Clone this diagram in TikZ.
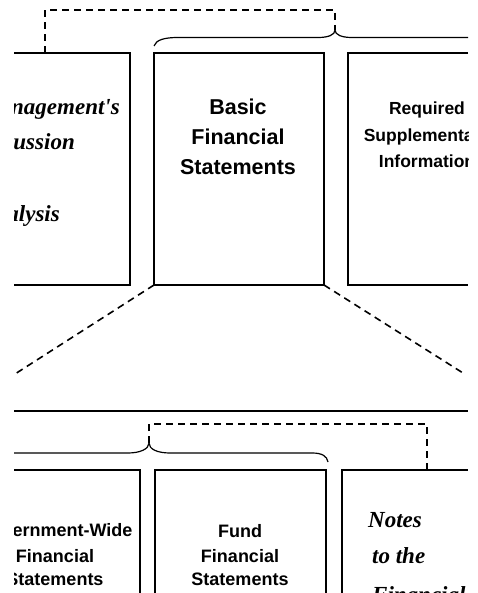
\documentclass[tikz,border=0pt]{standalone}
\usepackage{fontspec}
\setmainfont{Liberation Serif}
\newfontfamily\hsf{Liberation Sans}
\newfontfamily\scrf{Liberation Serif}
\begin{document}
\begin{tikzpicture}[x=1pt,y=-1pt,
  solidline/.style={line width=1.4pt},
  dashline/.style={line width=1.6pt, dash pattern=on 7pt off 5pt},
  bracestyle/.style={line width=1.2pt},
  bigsans/.style={font=\hsf\bfseries\fontsize{21.5}{24}\selectfont, inner sep=0pt, anchor=base},
  medsans/.style={font=\hsf\bfseries\fontsize{17.5}{20}\selectfont, inner sep=0pt, anchor=base},
  smallsans/.style={font=\hsf\bfseries\fontsize{18}{20}\selectfont, inner sep=0pt, anchor=base},
  scripttext/.style={font=\scrf\bfseries\itshape\fontsize{23}{26}\selectfont, inner sep=0pt}]
\useasboundingbox (0,0) rectangle (477,593);

% top boxes
\coordinate (a1) at (14,53);  \coordinate (a2) at (130,53);
\coordinate (a3) at (130,285); \coordinate (a4) at (14,285);
\coordinate (b1) at (154,53); \coordinate (b2) at (324,53);
\coordinate (b3) at (324,285); \coordinate (b4) at (154,285);
\coordinate (c1) at (468,53); \coordinate (c2) at (348,53);
\coordinate (c3) at (348,285); \coordinate (c4) at (468,285);
\draw[solidline] (a1) -- (a2) -- (a3) -- (a4);
\draw[solidline] (b1) rectangle (b3);
\draw[solidline] (c1) -- (c2) -- (c3) -- (c4);

% top dashed bracket and brace
\coordinate (tb1) at (45,53); \coordinate (tb2) at (45,10);
\coordinate (tb3) at (335,10); \coordinate (tb4) at (335,30);
\draw[dashline] (tb1) -- (tb2) -- (tb3) -- (tb4);
\draw[bracestyle] (154,46) .. controls (156,40) and (164,37.5) .. (178,37.5) -- (318,37.5)
  .. controls (328,37.5) and (335,35) .. (tb4)
  .. controls (335,35) and (342,37.5) .. (352,37.5) -- (468,37.5);

% diagonals
\coordinate (dl) at (15,374); \coordinate (dr) at (463,373);
\draw[dashline] (b4) -- (dl);
\draw[dashline] (b3) -- (dr);

% separator line
\coordinate (s1) at (14,411); \coordinate (s2) at (468,411);
\draw[solidline] (s1) -- (s2);

% bottom dashed bracket and brace
\coordinate (bb1) at (149,443); \coordinate (bb2) at (149,424);
\coordinate (bb3) at (427,424); \coordinate (bb4) at (427,470);
\draw[dashline] (bb1) -- (bb2) -- (bb3) -- (bb4);
\draw[bracestyle] (14,453) -- (128,453) .. controls (140,453) and (149,449) .. (bb1)
  .. controls (149,449) and (157,453) .. (170,453) -- (312,453)
  .. controls (322,453) and (327,456) .. (328,462);

% bottom boxes
\coordinate (d1) at (14,470); \coordinate (d2) at (140,470); \coordinate (d3) at (140,593);
\coordinate (e1) at (155,593); \coordinate (e2) at (155,470); \coordinate (e3) at (326,470); \coordinate (e4) at (326,593);
\coordinate (f1) at (342,593); \coordinate (f2) at (342,470); \coordinate (f3) at (468,470);
\draw[solidline] (d1) -- (d2) -- (d3);
\draw[solidline] (e1) -- (e2) -- (e3) -- (e4);
\draw[solidline] (f1) -- (f2) -- (f3);

% texts
\begin{scope}
\clip (14,0) rectangle (468,593);
\node[scripttext, anchor=base east] (m1) at (120,115) {Management's};
\node[scripttext, anchor=base east] (m2) at (75,150) {Discussion};
\node[scripttext, anchor=base east] (m3) at (60,222) {Analysis};

\node[bigsans] (bf1) at (238,115) {Basic};
\node[bigsans] (bf2) at (238,145) {Financial};
\node[bigsans] (bf3) at (238,175) {Statements};

\node[medsans] (rs1) at (427,115) {Required};
\node[medsans] (rs2) at (427,141.5) {Supplementary};
\node[medsans] (rs3) at (427,168) {Information};

\node[smallsans] (g1) at (55,536) {Government-Wide};
\node[smallsans] (g2) at (55,562) {Financial};
\node[smallsans] (g3) at (55,585) {Statements};

\node[smallsans] (ff1) at (240,537) {Fund};
\node[smallsans] (ff2) at (240,562) {Financial};
\node[smallsans] (ff3) at (240,585) {Statements};

\node[scripttext, anchor=base west] (n1) at (368,527) {Notes};
\node[scripttext, anchor=base west] (n2) at (372,563) {to the};
\node[scripttext, anchor=base west] (n3) at (372,602) {Financial};
\end{scope}
\end{tikzpicture}
\end{document}
